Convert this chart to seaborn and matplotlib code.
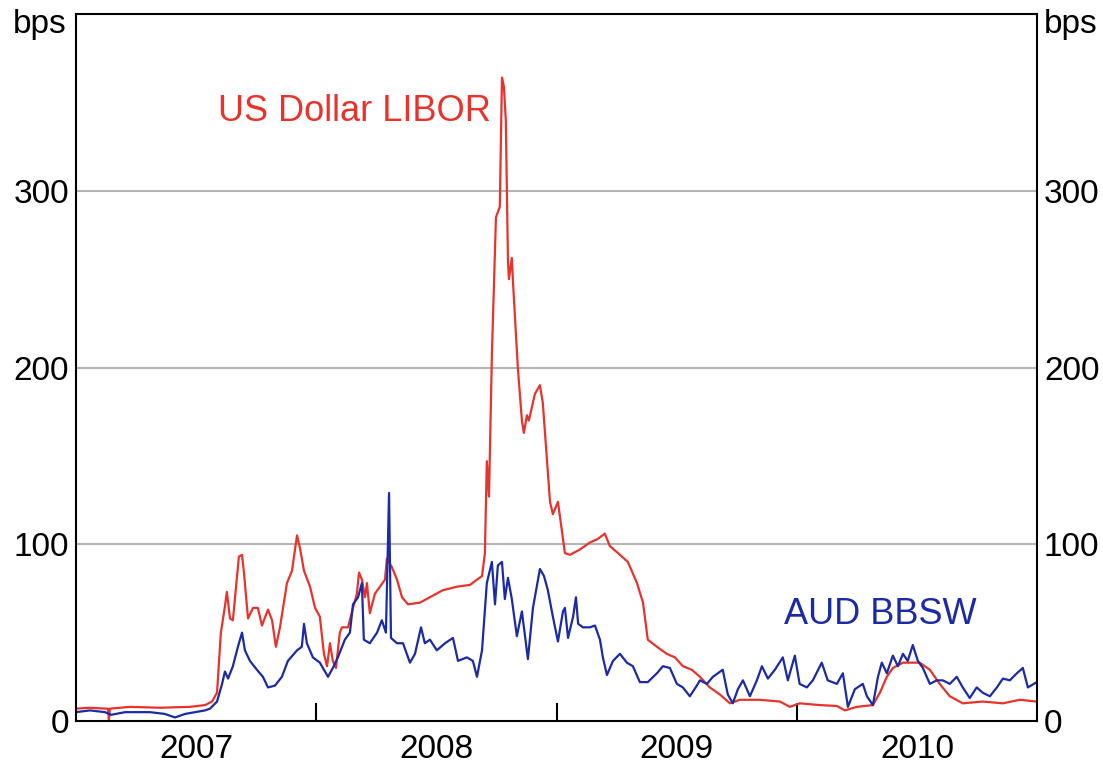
import matplotlib
matplotlib.use("Agg")
import matplotlib.pyplot as plt
import seaborn as sns
import pandas as pd

# ---- data (decimal years, basis points) ----
libor_t = [2007.000, 2007.058, 2007.121, 2007.133, 2007.137, 2007.141, 2007.225, 2007.350, 2007.474,
           2007.537, 2007.566, 2007.587, 2007.603, 2007.620, 2007.628, 2007.641, 2007.653, 2007.666,
           2007.678, 2007.691, 2007.699, 2007.716, 2007.737, 2007.757, 2007.774, 2007.799, 2007.816,
           2007.832, 2007.849, 2007.878, 2007.899, 2007.920, 2007.932, 2007.949, 2007.974, 2007.995,
           2008.015, 2008.032, 2008.045, 2008.057, 2008.069, 2008.082, 2008.098, 2008.107, 2008.132,
           2008.153, 2008.169, 2008.178, 2008.190, 2008.203, 2008.211, 2008.223, 2008.244, 2008.265,
           2008.286, 2008.294, 2008.315, 2008.336, 2008.357, 2008.382, 2008.432, 2008.473, 2008.527,
           2008.586, 2008.640, 2008.669, 2008.690, 2008.702, 2008.710, 2008.719, 2008.731, 2008.748,
           2008.764, 2008.773, 2008.781, 2008.789, 2008.798, 2008.802, 2008.814, 2008.819, 2008.839,
           2008.856, 2008.864, 2008.877, 2008.885, 2008.910, 2008.931, 2008.943, 2008.973, 2008.985,
           2009.006, 2009.035, 2009.056, 2009.097, 2009.139, 2009.172, 2009.201, 2009.222, 2009.256,
           2009.297, 2009.335, 2009.360, 2009.380, 2009.418, 2009.459, 2009.493, 2009.526, 2009.563,
           2009.597, 2009.638, 2009.680, 2009.722, 2009.763, 2009.846, 2009.930, 2009.971, 2010.012,
           2010.096, 2010.167, 2010.200, 2010.250, 2010.317, 2010.346, 2010.375, 2010.400, 2010.442,
           2010.483, 2010.512, 2010.554, 2010.595, 2010.637, 2010.691, 2010.774, 2010.858, 2010.928,
           2010.999]
libor_v = [7, 7.5, 7, 7, 0, 7, 8, 7.5, 8,
           9, 11, 16, 50, 65, 73, 58, 57, 76,
           93, 94, 84, 58, 64, 64, 54, 63, 57,
           42, 53, 78, 85, 105, 98, 85, 76, 64,
           59, 38, 31, 44, 34, 30, 50, 53, 53,
           64, 72, 84, 80, 70, 78, 61, 72, 76,
           80, 92, 87, 80, 70, 66, 67, 70, 74,
           76, 77, 80, 82, 95, 147, 127, 207, 285,
           291, 364, 359, 340, 260, 250, 262, 248, 200,
           170, 163, 173, 170, 185, 190, 180, 124, 117,
           124, 95, 94, 97, 101, 103, 106, 99, 95,
           90, 78, 67, 46, 42, 38, 36, 31, 29,
           25, 19, 15, 10, 12, 12, 11, 8, 10,
           9, 8.5, 6, 8, 9, 16, 25, 30, 33,
           33, 33, 29, 21, 14, 10, 11, 10, 12,
           11]

bbsw_t = [2007.000, 2007.058, 2007.121, 2007.146, 2007.204, 2007.308, 2007.370, 2007.412, 2007.454,
          2007.495, 2007.537, 2007.558, 2007.587, 2007.608, 2007.620, 2007.633, 2007.653, 2007.674,
          2007.691, 2007.703, 2007.724, 2007.753, 2007.778, 2007.799, 2007.828, 2007.857, 2007.882,
          2007.920, 2007.940, 2007.949, 2007.961, 2007.986, 2008.015, 2008.049, 2008.069, 2008.090,
          2008.119, 2008.140, 2008.153, 2008.174, 2008.190, 2008.198, 2008.223, 2008.253, 2008.273,
          2008.290, 2008.303, 2008.311, 2008.336, 2008.361, 2008.390, 2008.411, 2008.436, 2008.452,
          2008.473, 2008.502, 2008.536, 2008.569, 2008.590, 2008.627, 2008.652, 2008.669, 2008.690,
          2008.710, 2008.731, 2008.744, 2008.756, 2008.773, 2008.785, 2008.798, 2008.814, 2008.835,
          2008.856, 2008.881, 2008.902, 2008.918, 2008.931, 2008.948, 2008.964, 2008.985, 2009.006,
          2009.027, 2009.035, 2009.048, 2009.069, 2009.081, 2009.090, 2009.110, 2009.139, 2009.160,
          2009.181, 2009.193, 2009.210, 2009.235, 2009.264, 2009.293, 2009.318, 2009.347, 2009.380,
          2009.418, 2009.443, 2009.472, 2009.501, 2009.526, 2009.555, 2009.584, 2009.597, 2009.626,
          2009.651, 2009.692, 2009.713, 2009.734, 2009.755, 2009.776, 2009.805, 2009.834, 2009.855,
          2009.880, 2009.909, 2009.942, 2009.963, 2009.992, 2010.012, 2010.042, 2010.067, 2010.104,
          2010.129, 2010.167, 2010.192, 2010.213, 2010.242, 2010.275, 2010.292, 2010.317, 2010.338,
          2010.354, 2010.375, 2010.400, 2010.421, 2010.442, 2010.462, 2010.483, 2010.504, 2010.525,
          2010.554, 2010.583, 2010.608, 2010.637, 2010.666, 2010.691, 2010.720, 2010.749, 2010.774,
          2010.804, 2010.833, 2010.858, 2010.887, 2010.916, 2010.941, 2010.962, 2010.999]
bbsw_v = [5, 6, 5, 3.5, 5, 5, 4, 2, 4,
          5, 6, 7, 11, 21, 28, 24, 31, 42,
          50, 40, 34, 29, 25, 19, 20, 25, 34,
          40, 42, 55, 44, 36, 33, 25, 30, 36,
          46, 50, 66, 70, 78, 46, 44, 50, 57,
          50, 129, 47, 44, 44, 33, 38, 53, 44,
          46, 40, 44, 47, 34, 36, 34, 25, 40,
          78, 90, 66, 88, 90, 69, 81, 69, 48,
          62, 35, 64, 76, 86, 82, 74, 59, 45,
          62, 64, 47, 59, 70, 55, 53, 53, 54,
          46, 36, 26, 34, 38, 33, 31, 22, 22,
          27, 31, 30, 21, 19, 14, 20, 23, 21,
          25, 29, 15, 10, 18, 23, 14, 23, 31,
          24, 29, 36, 23, 37, 21, 19, 23, 33,
          23, 21, 27, 8, 18, 21, 14, 9, 25,
          33, 27, 37, 31, 38, 34, 43, 34, 30,
          21, 23, 23, 21, 25, 19, 13, 19, 16,
          14, 19, 24, 23, 27, 30, 19, 22]

year_labels = ["2007", "2008", "2009", "2010"]
y_ticks = [0, 100, 200, 300]

RED = "#e8332c"
BLUE = "#1b2aa5"

sns.set_style("white")
plt.rcParams["font.family"] = ["Liberation Sans", "DejaVu Sans"]
plt.rcParams["text.color"] = "black"
plt.rcParams["xtick.color"] = "black"
plt.rcParams["ytick.color"] = "black"

df = pd.concat([
    pd.DataFrame({"t": libor_t, "v": libor_v, "s": "US Dollar LIBOR"}),
    pd.DataFrame({"t": bbsw_t, "v": bbsw_v, "s": "AUD BBSW"}),
])

fig = plt.figure(figsize=(11.03, 7.71), dpi=100)
ax = fig.add_axes([76 / 1103, 50 / 771, (1037 - 76) / 1103, (721 - 14) / 771])

sns.lineplot(data=df, x="t", y="v", hue="s", palette={"US Dollar LIBOR": RED, "AUD BBSW": BLUE},
             linewidth=1.6, ax=ax, legend=False, sort=False, estimator=None)

ax.set_xlim(2007, 2011)
ax.set_ylim(0, 400)
ax.set_xlabel("")
ax.set_ylabel("")

for yv in [100, 200, 300]:
    ax.axhline(yv, color="#b4b4b4", lw=1.5, zorder=0)

# x ticks: marks at year boundaries, labels at mid-year
ax.set_xticks([2008, 2009, 2010])
ax.set_xticklabels([])
ax.set_xticks([2007.5, 2008.5, 2009.5, 2010.5], minor=True)
ax.set_xticklabels(year_labels, minor=True)
ax.tick_params(axis="x", which="major", direction="in", length=13, width=1.5, color="black",
               bottom=True)
ax.tick_params(axis="x", which="minor", length=0, labelsize=24, pad=9, labelcolor="black")

ax.set_yticks(y_ticks)
ax.set_yticklabels([str(v) for v in y_ticks])
ax.tick_params(axis="y", which="both", length=0, labelsize=24, pad=5, labelcolor="black",
               left=True, right=True, labelleft=True, labelright=True)

for sp in ax.spines.values():
    sp.set_visible(True)
    sp.set_color("black")
    sp.set_linewidth(1.5)

fig.text(40 / 1103, 1 - 25 / 771, "bps", fontsize=24, ha="center", va="center", color="black")
fig.text(1071 / 1103, 1 - 25 / 771, "bps", fontsize=24, ha="center", va="center", color="black")

ax.text(2007.59, 345, "US Dollar LIBOR", color=RED, fontsize=26, ha="left", va="center")
ax.text(2010.346, 60, "AUD BBSW", color=BLUE, fontsize=26, ha="center", va="center")

fig.savefig("out.png", dpi=100)
